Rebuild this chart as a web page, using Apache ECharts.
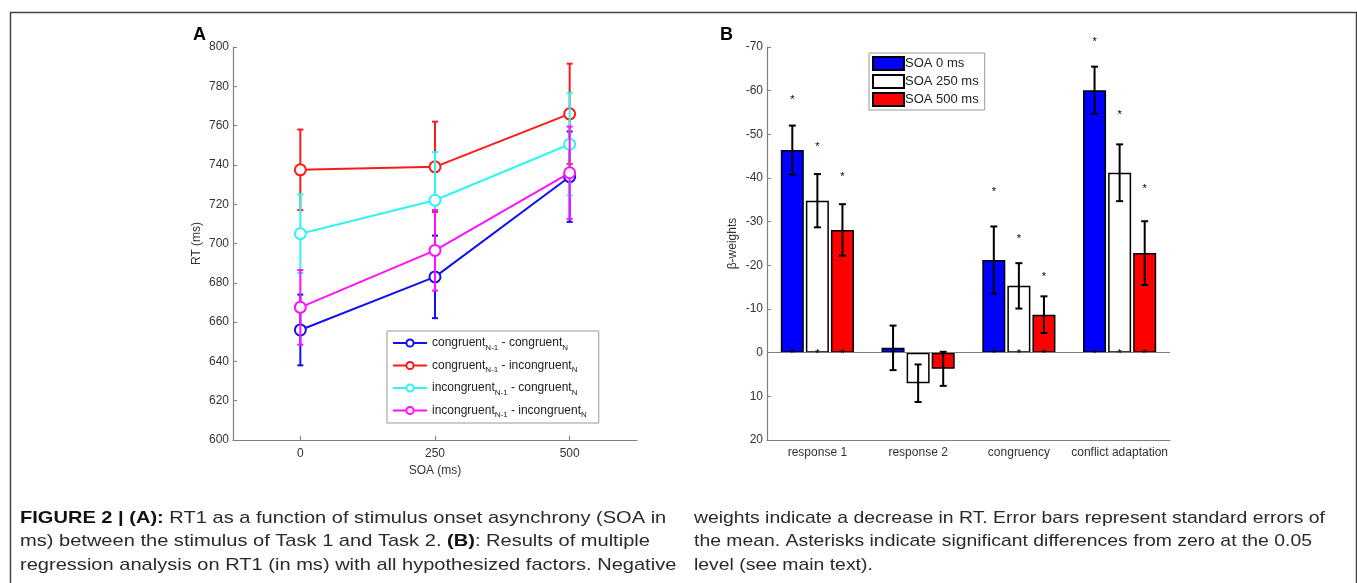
<!DOCTYPE html>
<html>
<head>
<meta charset="utf-8">
<script src="https://cdn.jsdelivr.net/npm/echarts@6/dist/echarts.min.js"></script>
<style>
  html, body { margin: 0; padding: 0; background: #fff; }
  #main { width: 1357px; height: 583px; }
</style>
</head>
<body>
<div id="main"></div>
<script>
// panel A: RT by SOA for the four sequence conditions
var soa = [0, 250, 500];
var rtCC = [656, 683, 734];
var seCC = [18, 21, 23];
var rtCI = [737.5, 739, 766];
var seCI = [20.5, 23, 25.5];
var rtIC = [705, 722, 750.5];
var seIC = [20, 24.5, 26];
var rtII = [667.5, 696.5, 736];
var seII = [19, 20.5, 23.5];
var namesA = [
  'congruent{s|N-1} - congruent{s|N}',
  'congruent{s|N-1} - incongruent{s|N}',
  'incongruent{s|N-1} - congruent{s|N}',
  'incongruent{s|N-1} - incongruent{s|N}'
];
var soaTicks = [0, 250, 500];

// panel B: regression weights
var predictors = ['response 1', 'response 2', 'congruency', 'conflict adaptation'];
var soaNames = ['SOA 0 ms', 'SOA 250 ms', 'SOA 500 ms'];
var b0 = [-46.4, -1.1, -21.2, -60.1];
var se0 = [5.6, 5.1, 7.7, 5.4];
var b250 = [-34.8, 7.0, -15.3, -41.2];
var se250 = [6.1, 4.3, 5.2, 6.5];
var b500 = [-28.1, 3.7, -8.7, -22.8];
var se500 = [5.9, 3.9, 4.2, 7.3];
var star0 = [-58, null, -37, -71.4];
var star250 = [-47.4, null, -26.3, -54.6];
var star500 = [-40.5, null, -17.6, -37.8];
var starZero = [0, null, 0, 0];

var captionLeft = [
  '{b|FIGURE 2 | (A):} RT1 as a function of stimulus onset asynchrony (SOA in',
  'ms) between the stimulus of Task 1 and Task 2. {b|(B)}: Results of multiple',
  'regression analysis on RT1 (in ms) with all hypothesized factors. Negative'
];
var captionRight = [
  'weights indicate a decrease in RT. Error bars represent standard errors of',
  'the mean. Asterisks indicate significant differences from zero at the 0.05',
  'level (see main text).'
];

var FONT = 'Liberation Sans, Arial, sans-serif';
var AXIS_GRAY = '#7f7f7f';
var BAR_W = 23;
var BAR_GAP = 0.09;

var chart = echarts.init(document.getElementById('main'));

function errData(x, m, s) {
  return x.map(function (v, i) { return [v, m[i] - s[i], m[i] + s[i]]; });
}

function errRenderA(params, api) {
  var lo = api.coord([api.value(0), api.value(1)]);
  var hi = api.coord([api.value(0), api.value(2)]);
  var c = api.visual('color');
  var cap = 3;
  var st = { stroke: c, lineWidth: 2 };
  return {
    type: 'group',
    children: [
      { type: 'line', shape: { x1: lo[0], y1: lo[1], x2: hi[0], y2: hi[1] }, style: st },
      { type: 'line', shape: { x1: lo[0] - cap, y1: lo[1], x2: lo[0] + cap, y2: lo[1] }, style: st },
      { type: 'line', shape: { x1: hi[0] - cap, y1: hi[1], x2: hi[0] + cap, y2: hi[1] }, style: st }
    ]
  };
}

function offsetFor(k) {
  return (k - 1) * BAR_W * (1 + BAR_GAP);
}

function errRenderB(k) {
  return function (params, api) {
    var lo = api.coord([api.value(0), api.value(1)]);
    var hi = api.coord([api.value(0), api.value(2)]);
    var dx = offsetFor(k);
    var cap = 3.5;
    var st = { stroke: '#000', lineWidth: 2 };
    var x = lo[0] + dx;
    return {
      type: 'group',
      children: [
        { type: 'line', shape: { x1: x, y1: lo[1], x2: x, y2: hi[1] }, style: st },
        { type: 'line', shape: { x1: x - cap, y1: lo[1], x2: x + cap, y2: lo[1] }, style: st },
        { type: 'line', shape: { x1: x - cap, y1: hi[1], x2: x + cap, y2: hi[1] }, style: st }
      ]
    };
  };
}

function starRender(k) {
  return function (params, api) {
    var p = api.coord([api.value(0), api.value(1)]);
    return {
      type: 'text',
      x: p[0] + offsetFor(k),
      y: p[1] + 1,
      style: { text: '*', font: '11px ' + FONT, fill: '#000', align: 'center', verticalAlign: 'middle' }
    };
  };
}

function starData(arrs) {
  var out = [];
  arrs.forEach(function (a) {
    a.forEach(function (v, i) { if (v !== null) out.push([i, v]); });
  });
  return out;
}

var colorsA = ['#1010f0', '#ff1a1a', '#30f4f4', '#ff10ff'];
var rtA = [rtCC, rtCI, rtIC, rtII];
var seA = [seCC, seCI, seIC, seII];

var series = [];
rtA.forEach(function (rt, i) {
  series.push({
    type: 'custom',
    xAxisIndex: 0, yAxisIndex: 0,
    renderItem: errRenderA,
    itemStyle: { color: colorsA[i] },
    encode: { x: 0, y: [1, 2] },
    data: errData(soa, rt, seA[i]),
    z: 2 + i * 2,
    silent: true
  });
  series.push({
    name: namesA[i],
    type: 'line',
    xAxisIndex: 0, yAxisIndex: 0,
    data: soa.map(function (s, j) { return [s, rt[j]]; }),
    color: colorsA[i],
    symbol: 'emptyCircle',
    symbolSize: 11,
    lineStyle: { width: 2, color: colorsA[i] },
    itemStyle: { color: colorsA[i], borderWidth: 2 },
    z: 3 + i * 2
  });
});

var bArr = [b0, b250, b500];
var seB = [se0, se250, se500];
var colorsB = ['#0000ff', '#ffffff', '#ff0000'];
bArr.forEach(function (b, k) {
  var s = {
    name: soaNames[k],
    type: 'bar',
    xAxisIndex: 1, yAxisIndex: 1,
    data: b,
    barWidth: BAR_W,
    barGap: (BAR_GAP * 100) + '%',
    itemStyle: { color: colorsB[k], borderColor: '#000', borderWidth: 1.5 },
    z: 2
  };
  if (k === 0) {
    s.markLine = {
      silent: true, symbol: 'none', label: { show: false },
      lineStyle: { color: AXIS_GRAY, type: 'solid', width: 1.2 },
      data: [{ yAxis: 0 }]
    };
  }
  series.push(s);
});
bArr.forEach(function (b, k) {
  series.push({
    type: 'custom',
    xAxisIndex: 1, yAxisIndex: 1,
    renderItem: errRenderB(k),
    encode: { x: 0, y: [1, 2] },
    data: b.map(function (v, i) { return [i, v - seB[k][i], v + seB[k][i]]; }),
    z: 5,
    silent: true
  });
});
[star0, star250, star500].forEach(function (st, k) {
  series.push({
    type: 'custom',
    xAxisIndex: 1, yAxisIndex: 1,
    renderItem: starRender(k),
    encode: { x: 0, y: 1 },
    data: starData([st, starZero]),
    clip: false,
    z: 6,
    silent: true
  });
});

// caption text is tracked wider in the original, so stretch it a bit
function captionGraphics(lines, x, y0, sx) {
  return lines.map(function (t, i) {
    return {
      type: 'text', x: x, y: y0 + i * 23.5,
      scaleX: sx, originX: 0,
      style: {
        text: t, font: '17px ' + FONT, fill: '#2a2a2a', verticalAlign: 'middle',
        rich: { b: { font: 'bold 17px ' + FONT, fill: '#111' } }
      }
    };
  });
}

var option = {
  backgroundColor: '#fff',
  animation: false,
  textStyle: { fontFamily: FONT },
  grid: [
    { left: 233, top: 47, width: 404, height: 393 },
    { left: 767, top: 47, width: 403, height: 393 }
  ],
  xAxis: [
    {
      type: 'value', gridIndex: 0, min: -125, max: 625,
      name: 'SOA (ms)', nameLocation: 'middle', nameGap: 18,
      nameTextStyle: { fontSize: 12, color: '#333' },
      axisLine: { onZero: false, lineStyle: { color: AXIS_GRAY, width: 1.2 } },
      axisTick: { inside: true, length: 4, customValues: soaTicks, lineStyle: { color: AXIS_GRAY } },
      axisLabel: { customValues: soaTicks, fontSize: 12, color: '#333', margin: 8 },
      splitLine: { show: false }
    },
    {
      type: 'category', gridIndex: 1, data: predictors,
      axisLine: { onZero: false, lineStyle: { color: AXIS_GRAY, width: 1.2 } },
      axisTick: { inside: true, length: 4, alignWithLabel: true, lineStyle: { color: AXIS_GRAY } },
      axisLabel: { fontSize: 12, color: '#333', margin: 7, interval: 0 },
      splitLine: { show: false }
    }
  ],
  yAxis: [
    {
      type: 'value', gridIndex: 0, min: 600, max: 800, interval: 20,
      name: 'RT (ms)', nameLocation: 'middle', nameGap: 30,
      nameTextStyle: { fontSize: 12, color: '#333' },
      axisLine: { show: true, onZero: false, lineStyle: { color: AXIS_GRAY, width: 1.2 } },
      axisTick: { show: true, inside: true, length: 4, lineStyle: { color: AXIS_GRAY } },
      axisLabel: { fontSize: 12, color: '#333', margin: 4 },
      splitLine: { show: false }
    },
    {
      type: 'value', gridIndex: 1, min: -70, max: 20, interval: 10, inverse: true,
      name: 'β-weights', nameLocation: 'middle', nameGap: 28,
      nameTextStyle: { fontSize: 12, color: '#333' },
      axisLine: { show: true, onZero: false, lineStyle: { color: AXIS_GRAY, width: 1.2 } },
      axisTick: { show: true, inside: true, length: 4, lineStyle: { color: AXIS_GRAY } },
      axisLabel: { fontSize: 12, color: '#333', margin: 4 },
      splitLine: { show: false }
    }
  ],
  legend: [
    {
      data: namesA,
      orient: 'vertical',
      left: 387, top: 331,
      padding: [6, 12, 4, 5],
      itemWidth: 34, itemHeight: 9, itemGap: 8,
      backgroundColor: '#fff',
      borderColor: '#999', borderWidth: 1,
      textStyle: {
        fontSize: 12, color: '#222',
        rich: { s: { fontSize: 8, color: '#222', padding: [9, 0, 0, 0] } }
      }
    },
    {
      data: soaNames,
      orient: 'vertical',
      left: 869, top: 53,
      padding: [3, 6, 3, 3],
      icon: 'rect',
      itemWidth: 31, itemHeight: 13, itemGap: 3,
      backgroundColor: '#fff',
      borderColor: '#999', borderWidth: 1,
      textStyle: { fontSize: 13, color: '#222', padding: [0, 0, 0, -4] }
    }
  ],
  graphic: [
    {
      type: 'rect', left: 8, top: 10, silent: true,
      shape: { width: 1346, height: 600 },
      style: { fill: 'none', stroke: '#444', lineWidth: 1.5 }
    },
    { type: 'text', left: 193, top: 26, style: { text: 'A', font: 'bold 18px ' + FONT, fill: '#000' } },
    { type: 'text', left: 720, top: 26, style: { text: 'B', font: 'bold 18px ' + FONT, fill: '#000' } }
  ].concat(captionGraphics(captionLeft, 20, 518, 1.18), captionGraphics(captionRight, 694, 518, 1.14)),
  series: series
};

chart.setOption(option);
</script>
</body>
</html>
